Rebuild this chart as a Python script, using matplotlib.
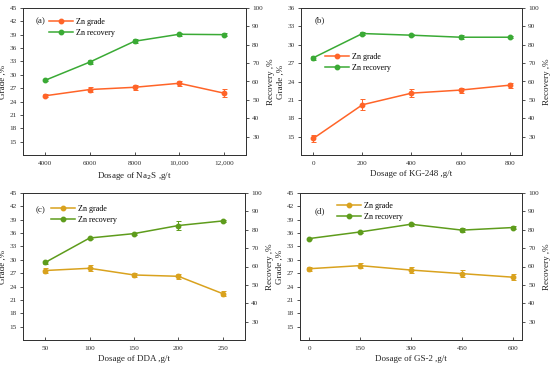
import matplotlib
matplotlib.use("Agg")
import matplotlib.pyplot as plt
from matplotlib.lines import Line2D

plt.rcParams['font.family'] = ['Liberation Serif', 'DejaVu Serif']

# ---- data ----
x_a = [4000, 6000, 8000, 10000, 12000]
xt_a = ["4000", "6000", "8000", "10,000", "12,000"]
grade_a = [25.3, 26.7, 27.2, 28.1, 25.9]
grade_err_a = [0.3, 0.5, 0.5, 0.6, 0.9]
rec_a = [60.7, 70.6, 81.9, 85.7, 85.5]
rec_err_a = [0.6, 1.0, 1.2, 0.8, 0.8]

x_b = [0, 200, 400, 600, 800]
xt_b = ["0", "200", "400", "600", "800"]
grade_b = [14.7, 20.2, 22.1, 22.6, 23.4]
grade_err_b = [0.6, 0.9, 0.7, 0.4, 0.4]
rec_b = [72.9, 86.1, 85.2, 84.1, 84.1]
rec_err_b = [1.0, 1.0, 0.6, 1.0, 0.6]

x_c = [50, 100, 150, 200, 250]
xt_c = ["50", "100", "150", "200", "250"]
grade_c = [27.6, 28.1, 26.6, 26.3, 22.4]
grade_err_c = [0.6, 0.7, 0.5, 0.6, 0.5]
rec_c = [62.2, 75.5, 77.9, 82.3, 84.8]
rec_err_c = [0.8, 0.6, 0.6, 2.5, 0.6]

x_d = [0, 150, 300, 450, 600]
xt_d = ["0", "150", "300", "450", "600"]
grade_d = [28.0, 28.7, 27.7, 26.9, 26.1]
grade_err_d = [0.4, 0.6, 0.7, 0.8, 0.7]
rec_d = [75.2, 78.8, 83.0, 79.8, 81.2]
rec_err_d = [0.5, 0.6, 0.8, 1.2, 0.8]

W, H = 550, 366
fig = plt.figure(figsize=(W / 100, H / 100), dpi=100)

def pos(l, t, r, b):
    return [l / W, 1 - b / H, (r - l) / W, (b - t) / H]

panels = [
    dict(box=pos(23, 8, 246, 155), x=x_a, xt=xt_a, xlim=(3000, 13000),
         g=grade_a, ge=grade_err_a, r=rec_a, re=rec_err_a,
         gy=(12, 45), gticks=list(range(15, 46, 3)),
         xlabel="Dosage of Na$_2$S ,g/t", tag="(a)",
         gc="#FF6428", rc="#3AAA35", tagpos=(36, 21), leg=(49, 23, 10.5)),
    dict(box=pos(301, 8, 522, 155), x=x_b, xt=xt_b, xlim=(-50, 850),
         g=grade_b, ge=grade_err_b, r=rec_b, re=rec_err_b,
         gy=(12, 36), gticks=list(range(15, 37, 3)),
         xlabel="Dosage of KG-248 ,g/t", tag="(b)",
         gc="#FF6428", rc="#3AAA35", tagpos=(315, 20), leg=(325, 58, 9.5)),
    dict(box=pos(23, 193, 245, 340), x=x_c, xt=xt_c, xlim=(25, 275),
         g=grade_c, ge=grade_err_c, r=rec_c, re=rec_err_c,
         gy=(12, 45), gticks=list(range(15, 46, 3)),
         xlabel="Dosage of DDA ,g/t", tag="(c)",
         gc="#D9A21E", rc="#5E9C1C", tagpos=(36, 210), leg=(51, 210, 9.5)),
    dict(box=pos(300, 193, 522, 340), x=x_d, xt=xt_d, xlim=(-27, 627),
         g=grade_d, ge=grade_err_d, r=rec_d, re=rec_err_d,
         gy=(12, 45), gticks=list(range(15, 46, 3)),
         xlabel="Dosage of GS-2 ,g/t", tag="(d)",
         gc="#D9A21E", rc="#5E9C1C", tagpos=(315, 211), leg=(337, 207, 10)),
]

fs_tick = 5.2
fs_lab = 6.5
for p in panels:
    ax = fig.add_axes(p["box"])
    ax2 = ax.twinx()
    ax.errorbar(p["x"], p["g"], yerr=p["ge"], color=p["gc"], lw=1.1,
                marker='o', ms=3.2, mfc=p["gc"], mec=p["gc"],
                capsize=1.8, elinewidth=0.7, capthick=0.7, zorder=3)
    ax2.errorbar(p["x"], p["r"], yerr=p["re"], color=p["rc"], lw=1.1,
                 marker='o', ms=3.2, mfc=p["rc"], mec=p["rc"],
                 capsize=1.8, elinewidth=0.7, capthick=0.7, zorder=3)
    ax.set_xlim(*p["xlim"])
    ax.set_ylim(*p["gy"])
    ax.set_yticks(p["gticks"])
    ax2.set_ylim(20, 100)
    ax2.set_yticks(list(range(30, 101, 10)))
    ax.set_xticks(p["x"])
    ax.set_xticklabels(p["xt"])
    ax.tick_params(axis='x', direction='in', length=2.5, width=0.6,
                   labelsize=fs_tick, pad=4, colors='#333333')
    ax.tick_params(axis='y', direction='out', length=2.5, width=0.6,
                   labelsize=fs_tick, pad=2, colors='#333333')
    ax2.tick_params(axis='y', direction='out', length=2.5, width=0.6,
                    labelsize=fs_tick, pad=2, colors='#333333')
    for sp in list(ax.spines.values()) + list(ax2.spines.values()):
        sp.set_linewidth(0.7)
        sp.set_color('#333333')
    ax.set_xlabel(p["xlabel"], fontsize=fs_lab, labelpad=3, color='#222222')
    ax.set_ylabel("Grade ,%", fontsize=fs_lab, labelpad=2, color='#222222')
    ax2.set_ylabel("Recovery ,%", fontsize=fs_lab, labelpad=3, color='#222222')
    # tag
    tx, ty = p["tagpos"]
    fig.text(tx / W, 1 - ty / H, p["tag"], fontsize=6.5, va='center',
             ha='left', color='#222222')
    # legend
    lx, ly, dy = p["leg"]
    handles = [Line2D([], [], color=p["gc"], lw=1.1, marker='o', ms=3.2),
               Line2D([], [], color=p["rc"], lw=1.1, marker='o', ms=3.2)]
    fig.legend(handles, ["Zn grade", "Zn recovery"],
               loc='upper left', bbox_to_anchor=(lx / W, 1 - (ly - 5) / H),
               frameon=False, fontsize=5.8, handlelength=3.0,
               handletextpad=0.4, labelspacing=0.35, borderpad=0,
               borderaxespad=0)

fig.savefig("out.png", dpi=100)
